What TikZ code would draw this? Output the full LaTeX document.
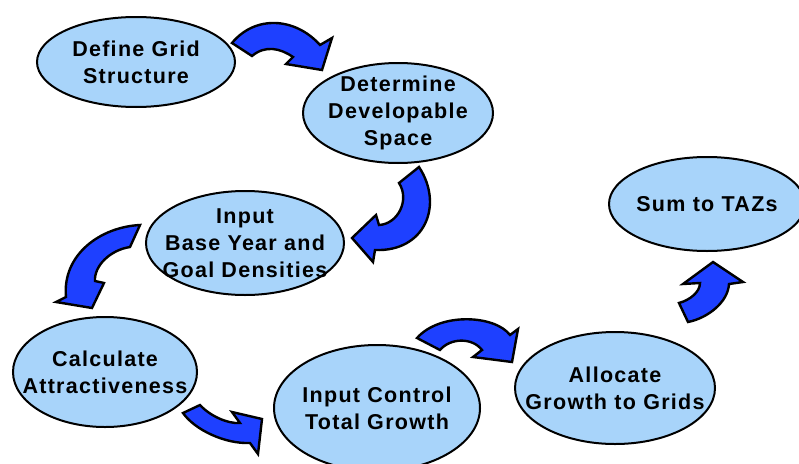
\documentclass[tikz,border=0pt]{standalone}
\usepackage{fontspec}
\setmainfont{Liberation Sans}
\usetikzlibrary{shapes.geometric}
\definecolor{stagefill}{HTML}{A8D4FA}
\definecolor{arrowblue}{HTML}{1E40FF}
\newcommand{\stagefont}{\fontsize{21.5}{27}\selectfont\bfseries\addfontfeature{LetterSpace=6}}
\tikzset{
  stage/.style={ellipse, draw=black, line width=2pt, fill=stagefill, align=center,
    inner xsep=-20pt, inner ysep=-8pt, font=\stagefont},
  bentarrow/.style={draw=black, line width=2.4pt, fill=arrowblue}
}

\begin{document}
\begin{tikzpicture}[x=1pt, y=-1pt]
\useasboundingbox (0,0) rectangle (799,463);
% process stages
\node[stage, minimum width=198pt, minimum height=90pt] (define) at (136,62) {Define Grid\\Structure};
\node[stage, minimum width=190pt, minimum height=100pt] (determine) at (398,113) {Determine\\Developable\\Space};
\node[stage, minimum width=198pt, minimum height=104pt] (inputbase) at (245,243) {Input\\Base Year and\\Goal Densities};
\node[stage, minimum width=196pt, minimum height=94pt] (sumtaz) at (707,204) {Sum to TAZs};
\node[stage, minimum width=184pt, minimum height=110pt] (calc) at (105,372) {Calculate\\Attractiveness};
\node[stage, minimum width=206pt, minimum height=126pt] (control) at (377,408) {Input Control\\Total Growth};
\node[stage, minimum width=200pt, minimum height=112pt] (allocate) at (615,388) {Allocate\\Growth to Grids};
% curved block arrows between the stages
\draw[bentarrow] (232,43) .. controls (255,15) and (295,17) .. (320,45) -- (332,38) -- (322,70) -- (286,64) -- (293,57)
  .. controls (280,48) and (265,45) .. (252,56) -- cycle;
\draw[bentarrow] (419,167) .. controls (444,205) and (425,252) .. (375,250) -- (373,262) -- (352,238) -- (376,215) -- (379,225)
  .. controls (398,224) and (410,200) .. (399,183) -- cycle;
\draw[bentarrow] (140,225) .. controls (100,227) and (62,255) .. (66,297) -- (56,302) -- (92,308) -- (104,283) -- (95,281)
  .. controls (94,266) and (110,250) .. (130,247) -- cycle;
\draw[bentarrow] (183,413) .. controls (195,430) and (225,444) .. (250,443) -- (258,454) -- (262,419) -- (232,412) -- (240,423)
  .. controls (228,424) and (210,416) .. (200,405) -- cycle;
\draw[bentarrow] (417,338) .. controls (440,312) and (495,315) .. (510,335) -- (518,329) -- (512,362) -- (473,357) -- (482,350)
  .. controls (472,337) and (450,338) .. (440,350) -- cycle;
\draw[bentarrow] (688,322) .. controls (708,318) and (728,302) .. (729,284) -- (743,282) -- (713,262) -- (683,284) -- (700,283)
  .. controls (700,292) and (690,300) .. (679,303) -- cycle;
\end{tikzpicture}
\end{document}
